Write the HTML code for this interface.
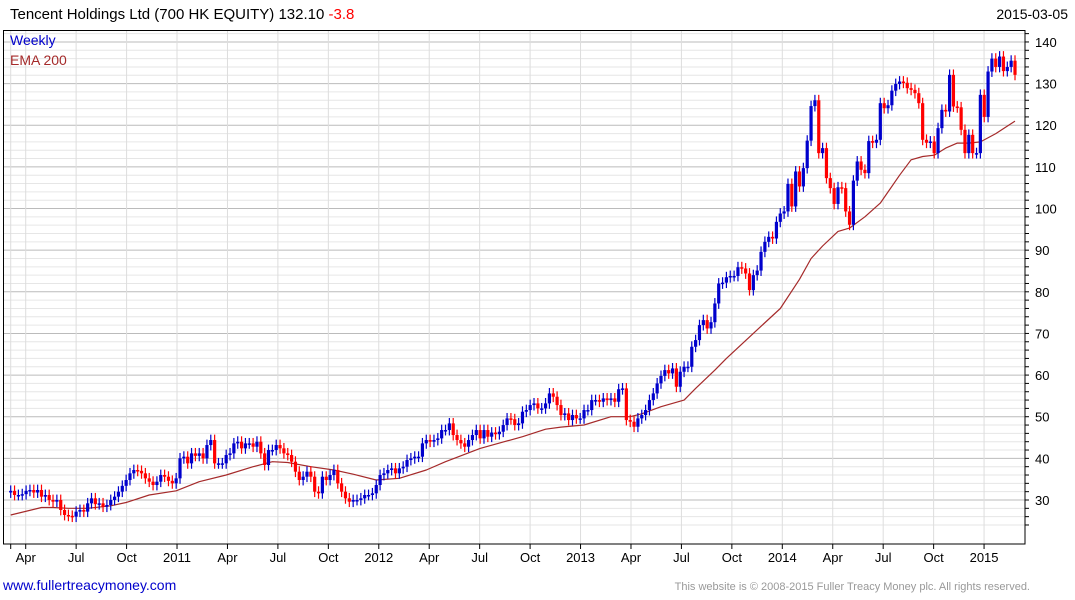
<!DOCTYPE html>
<html><head><meta charset="utf-8"><style>
body{margin:0;background:#fff;width:1075px;height:600px;overflow:hidden;font-family:"Liberation Sans",Arial,sans-serif}
svg{display:block}
</style></head><body>
<svg id="chart" width="1075" height="600" xmlns="http://www.w3.org/2000/svg">
<text x="10" y="19" font-size="15" fill="#000">Tencent Holdings Ltd (700 HK EQUITY) 132.10 <tspan fill="#ff0000">-3.8</tspan></text>
<text x="1068" y="19" font-size="14" text-anchor="end" fill="#000">2015-03-05</text>
<g id="grid"></g>
<g id="ema"></g>
<g id="candles"></g>
<rect x="3.5" y="30.5" width="1021.5" height="513.5" fill="none" stroke="#000" stroke-width="1"/>
<g id="axes"></g>
<text x="10" y="45" font-size="14" fill="#0000cc">Weekly</text>
<text x="10" y="65" font-size="14" fill="#a52a2a">EMA 200</text>
<text x="3" y="590" font-size="14" fill="#0000cc">www.fullertreacymoney.com</text>
<text x="1030" y="590" font-size="11" text-anchor="end" fill="#999">This website is © 2008-2015 Fuller Treacy Money plc. All rights reserved.</text>
</svg>
<script>
const closes = [32.2,31.2,31.2,31.4,32.2,32.4,31.8,32.4,30.8,31.2,30,29.6,30,27.6,26.4,26.2,26,27.2,27.6,27.2,29.2,30.4,29,29.2,28.4,28.8,30,30.8,32,33.4,34.8,36.4,37.2,37,36.4,35.2,34.4,33.6,34.4,36,35.6,34.6,34,35.2,40,40.4,38.8,41.2,40.6,41.2,40,43.2,44.4,38.8,38.8,38.8,40.8,41.2,43.6,44,42.4,43.6,43.6,42.8,44,41.2,38.4,42,42,43.2,42.4,41.2,40.8,39.2,36.8,34.8,35.6,36.8,35.6,32,31.6,35.6,34.8,36,37.2,34,32,30.4,29.6,30,30,30.4,31.2,31.2,31.6,33.6,36,36.4,37.2,37.6,36.4,37.6,38,
39.6,40,40.4,40.4,43.6,44.4,44,44.4,44.8,46.8,46.8,48.4,45.6,44.4,43.6,42.8,44.4,45.6,46.8,44.8,46.8,45.2,46.2,45.8,46.4,48,49.6,49.4,48,48.4,51.2,51.6,52.8,53.2,52,52,53.2,55.6,54.8,52.8,50.4,50.8,49.2,50.4,49.6,49.6,51.6,51.6,54,54,53.6,54.4,54,54.4,53.6,56.6,56.8,49.2,48.8,47.6,49.6,50.4,51.6,54,55.6,58,59.8,61.2,60.4,61.6,57.2,60.8,62,62,66.8,68.4,
72,73.2,71.2,72.7,77.2,82,82.2,83.5,83.8,83.8,85.9,85.6,84.4,80.4,84,85.1,89.6,92,93.2,92.8,96.8,98.8,99.3,105.9,100.5,108.9,105.3,109.7,116.3,124.6,126,113.3,114.5,107.3,104.9,101.1,105.1,104.9,99.3,96.1,106.7,111.3,109.3,108.5,116.2,115.8,116.5,125.3,124.1,124.8,128.3,129.9,130.5,130.2,128.9,128.5,127.7,125.3,116.5,115.8,116.1,113.3,119.3,123.7,123.3,132.1,124.5,124.3,118.9,113.3,117.7,113.3,113.3,127.3,122,132.9,136,134,136.5,133,134,135.5,132.1];
const firstOpen = 31.8;
const emaWeeks = [0,8,11,15,20,26,30,36,43,49,56,63,68,72,78,84,89,95,101,108,113,122,133,139,143,149,156,161,164,169,175,178,183,186,193,200,205,208,211,215,218,222,226,231,234,237,240,243,246,249,252,256,261];
const emaValues = [26.4,28.2,28.2,28,28,28.6,29.4,31.2,32.2,34.4,36,38,39.2,39,38,37.2,36.2,34.8,35.2,37.2,39.2,42.4,45.2,47,47.5,48,50,50,50.7,52.4,54,56.8,61.2,64,70,76,83,88,91,94.5,95.3,98,101.3,108,111.7,112.5,112.8,114.5,115.7,115.7,116,118,121];
const yTicks = [30,40,50,60,70,80,90,100,110,120,130,140];
const xLabels = ["Apr","Jul","Oct","2011","Apr","Jul","Oct","2012","Apr","Jul","Oct","2013","Apr","Jul","Oct","2014","Apr","Jul","Oct","2015"];

const NS="http://www.w3.org/2000/svg";
const X0=10.7, X1=1015, Ybase=500, pxPer=4.164;
const yS=v=>Ybase-(v-30)*pxPer;
const xS=i=>X0+i*(X1-X0)/(closes.length-1);
const qX=q=>25.7+q*50.44;
function mk(tag,attrs,parent){const e=document.createElementNS(NS,tag);for(const k in attrs)e.setAttribute(k,attrs[k]);parent.appendChild(e);return e;}
const grid=document.getElementById('grid'),axes=document.getElementById('axes');
for(let v=24;v<=142;v+=2){
  const y=yS(v); if(y<31||y>543)continue;
  const ln=mk('line',{x1:4,x2:1025,y1:y,y2:y,stroke:v%10===0?'#bbb':'#e6e6e6','stroke-width':1},grid);
  
  
  const tk=mk('line',{x1:1025,x2:1029,y1:y,y2:y,stroke:'#000','stroke-width':1},axes);
  
  
}
yTicks.forEach(v=>{
  const t=mk('text',{x:1035,y:yS(v)+5,'font-size':13,fill:'#000'},axes);
  t.textContent=v;
  
  
});
const vx=[10.7];
xLabels.forEach((l,q)=>vx.push(qX(q)));
vx.forEach(x=>{
  const ln=mk('line',{x1:x,x2:x,y1:31,y2:544,stroke:'#ddd','stroke-width':1},grid);
  
  
  const tk=mk('line',{x1:x,x2:x,y1:544,y2:549,stroke:'#000','stroke-width':1},axes);
  
  
});
xLabels.forEach((l,q)=>{
  const t=mk('text',{x:qX(q),y:562,'font-size':13,'text-anchor':'middle',fill:'#000'},axes);
  t.textContent=l;
  
  
});
const emaPts=emaWeeks.map((w,i)=>xS(Math.min(w,closes.length-1)).toFixed(1)+','+yS(emaValues[i]).toFixed(1)).join(' ');
const em=mk('polyline',{points:emaPts,fill:'none',stroke:'#a52a2a','stroke-width':1.2,'stroke-linejoin':'round'},document.getElementById('ema'));


const cg=document.getElementById('candles');
closes.forEach((c,i)=>{
  const o=i===0?firstOpen:closes[i-1];
  const up=c>=o, col=up?'#0000cc':'#ff0000';
  const x=xS(i);
  const hi=Math.max(o,c)+1.3, lo=Math.min(o,c)-1.3;
  const g=mk('g',{},cg);
  
  
  mk('line',{x1:x,x2:x,y1:yS(hi),y2:yS(lo),stroke:col,'stroke-width':1.2},g);
  const top=yS(Math.max(o,c)), h=Math.max(1.5,yS(Math.min(o,c))-top);
  mk('rect',{x:x-1.6,y:top,width:3.2,height:h,fill:col},g);
});
</script>
</body></html>
